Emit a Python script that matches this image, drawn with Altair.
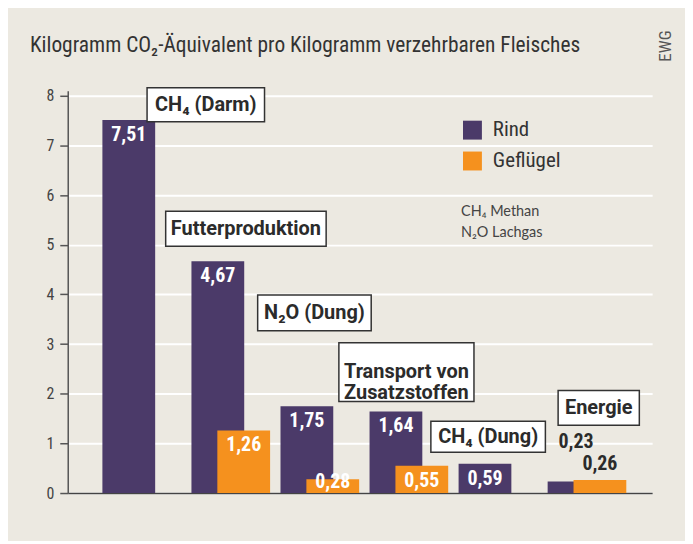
import altair as alt
import pandas as pd

# ---- data ----
categories = ["CH₄ (Darm)", "Futterproduktion", "N₂O (Dung)",
              "Transport von Zusatzstoffen", "CH₄ (Dung)", "Energie"]
rind = [7.51, 4.67, 1.75, 1.64, 0.59, 0.23]
gefluegel = [None, 1.26, 0.28, 0.55, None, 0.26]
series_names = ["Rind", "Geflügel"]
series_colors = ["#4b3a69", "#f5911e"]

title_text = "Kilogramm CO₂-Äquivalent pro Kilogramm verzehrbaren Fleisches"
source_text = "EWG"
note_lines = ["CH₄  Methan", "N₂O  Lachgas"]

# annotation boxes (category-index units / value units)
box_text = ["CH₄ (Darm)", "Futterproduktion", "N₂O (Dung)",
            "Transport von\nZusatzstoffen", "CH₄ (Dung)", "Energie"]
box_x0 = [0.060, 0.269, 1.302, 2.214, 3.247, 4.676]
box_x1 = [1.379, 2.071, 2.577, 3.731, 4.533, 5.588]
box_y0 = [7.479, 4.972, 3.268, 1.845, 0.822, 1.363]
box_y1 = [8.160, 5.674, 3.990, 3.028, 1.444, 2.065]

# ---- tables ----
rows = []
for i, c in enumerate(categories):
    rows.append({"idx": i, "category": c, "series": "Rind", "value": rind[i]})
    if gefluegel[i] is not None:
        rows.append({"idx": i, "category": c, "series": "Geflügel", "value": gefluegel[i]})
df = pd.DataFrame(rows)
ann = pd.DataFrame({"text": box_text, "x0": box_x0, "x1": box_x1,
                    "y0": box_y0, "y1": box_y1})

NARROW = "Roboto Condensed, DejaVu Sans Condensed, sans-serif"
BOXFONT = "Roboto, sans-serif"
NOTEFONT = "Lato, Roboto, sans-serif"
DARK = "#2b2b2b"

xscale = alt.Scale(domain=[-0.775, 5.676], nice=False, zero=False)
yscale = alt.Scale(domain=[0, 8.1], nice=False)

xenc = alt.X("idx:Q", scale=xscale,
             axis=alt.Axis(labels=False, ticks=False, grid=False, title=None,
                           domainColor="#444", domainWidth=1.6))
yenc = alt.Y("value:Q", scale=yscale,
             axis=alt.Axis(values=list(range(9)), title=None, format="d",
                           domainColor="#555", domainWidth=1.5,
                           tickColor="#555", tickWidth=1.5, tickSize=8,
                           labelFont=NARROW, labelFontSize=16, labelColor="#444",
                           labelPadding=6, grid=True, gridColor="#ffffff",
                           gridWidth=2))
color = alt.Color("series:N",
                  scale=alt.Scale(domain=series_names, range=series_colors),
                  legend=alt.Legend(title=None, orient="none", legendX=396,
                                    legendY=29, symbolType="square",
                                    symbolSize=361, symbolStrokeWidth=0,
                                    symbolOpacity=1,
                                    labelFont=NARROW, labelFontSize=21,
                                    labelColor="#333", labelOffset=10,
                                    rowPadding=9))

base = alt.Chart(df)
off = {"Rind": -13, "Geflügel": 13}

layers = []
for s in series_names:
    layers.append(
        base.transform_filter(alt.datum.series == s)
        .mark_bar(width=53, xOffset=off[s], orient="vertical")
        .encode(x=xenc, y=yenc, color=color)
    )

label_expr = "replace(format(datum.value, '.2f'), '.', ',')"
for s in series_names:
    layers.append(
        base.transform_filter((alt.datum.series == s) & (alt.datum.category != "Energie"))
        .transform_calculate(label=label_expr, ly="max(datum.value - 0.3, 0.22)")
        .mark_text(xOffset=off[s], color="white", font=NARROW, fontWeight="bold",
                   fontSize=20, baseline="middle", align="center")
        .encode(x=alt.X("idx:Q", scale=xscale), y=alt.Y("ly:Q", scale=yscale),
                text="label:N")
    )

energie_dy = {"Rind": -40, "Geflügel": -16}
energie_dx = {"Rind": 2, "Geflügel": 0}
for s in series_names:
    layers.append(
        base.transform_filter((alt.datum.series == s) & (alt.datum.category == "Energie"))
        .transform_calculate(label=label_expr)
        .mark_text(xOffset=off[s] + energie_dx[s], dy=energie_dy[s], color=DARK,
                   font=NARROW, fontWeight="bold", fontSize=20,
                   baseline="middle", align="center")
        .encode(x=alt.X("idx:Q", scale=xscale), y=alt.Y("value:Q", scale=yscale),
                text="label:N")
    )

abase = alt.Chart(ann)
layers.append(
    abase.mark_rect(fill="white", stroke="#333", strokeWidth=1.5)
    .encode(x=alt.X("x0:Q", scale=xscale), x2="x1:Q",
            y=alt.Y("y0:Q", scale=yscale), y2="y1:Q")
)
layers.append(
    abase.transform_calculate(xc="(datum.x0 + datum.x1) / 2",
                              yc="(datum.y0 + datum.y1) / 2")
    .mark_text(font=BOXFONT, fontWeight="bold", fontSize=20, color=DARK,
               baseline="middle", align="center", lineBreak="\n", lineHeight=21)
    .encode(x=alt.X("xc:Q", scale=xscale), y=alt.Y("yc:Q", scale=yscale),
            text="text:N")
)

tdf = pd.DataFrame({"t": [title_text]})
layers.append(
    alt.Chart(tdf).mark_text(font=NARROW, fontSize=21.5, color="#333",
                             align="left", baseline="middle")
    .encode(x=alt.value(-38), y=alt.value(-45), text="t:N")
)
layers.append(
    alt.Chart(pd.DataFrame({"t": [source_text]}))
    .mark_text(font=NARROW, fontSize=17, color="#555", angle=270,
               align="center", baseline="middle")
    .encode(x=alt.value(601), y=alt.value(-45), text="t:N")
)
for k, line in enumerate(note_lines):
    layers.append(
        alt.Chart(pd.DataFrame({"t": [line]}))
        .mark_text(font=NOTEFONT, fontSize=14.5, color="#444", align="left",
                   baseline="middle")
        .encode(x=alt.value(395), y=alt.value(122 + 21 * k), text="t:N")
    )

chart = (
    alt.layer(*layers)
    .properties(width=587, height=404, background="#ece9e1",
                padding={"left": 60, "top": 82, "right": 33, "bottom": 47},
                autosize=alt.AutoSizeParams(type="none"))
    .configure_view(stroke=None)
)

chart.save("out.html", embed_options={"renderer": "svg", "actions": False})
